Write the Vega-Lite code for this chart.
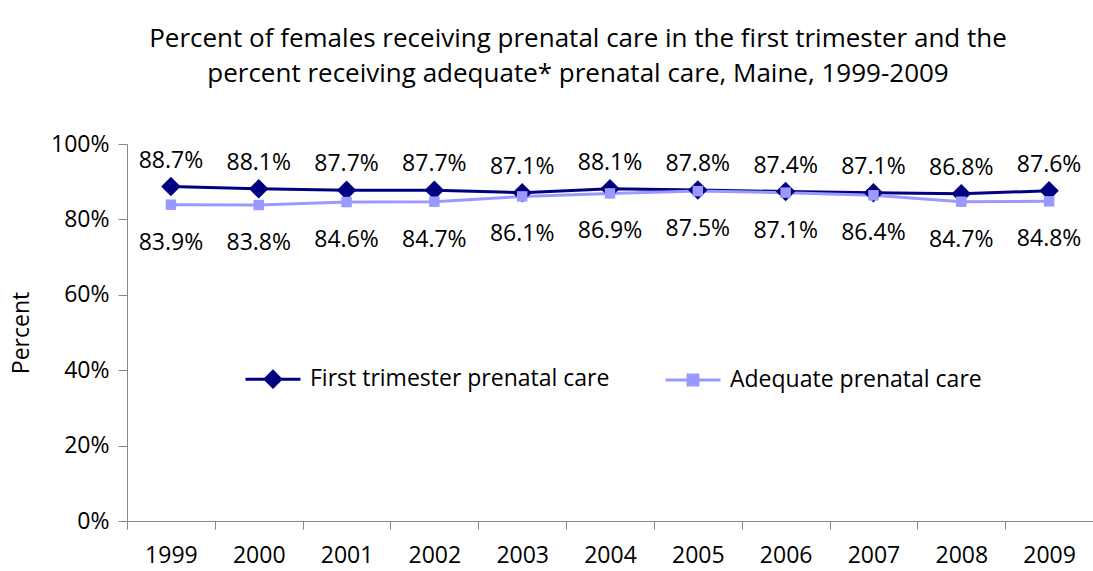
{
  "$schema": "https://vega.github.io/schema/vega-lite/v6.json",
  "width": 966,
  "height": 377,
  "autosize": {"type": "none"},
  "padding": {"left": 127, "top": 144, "right": 0, "bottom": 50},
  "background": "white",
  "config": {"view": {"stroke": null}, "font": "Open Sans"},
  "title": {
    "text": ["Percent of females receiving prenatal care in the first trimester and the", "percent receiving adequate* prenatal care, Maine, 1999-2009"],
    "fontSize": 26,
    "fontWeight": "normal",
    "font": "Open Sans",
    "lineHeight": 35,
    "anchor": "middle",
    "dx": -32,
    "offset": 46,
    "color": "black"
  },
  "data": {
    "values": [
      {"year": "1999", "series": "First trimester prenatal care", "pct": 0.887},
      {"year": "2000", "series": "First trimester prenatal care", "pct": 0.881},
      {"year": "2001", "series": "First trimester prenatal care", "pct": 0.877},
      {"year": "2002", "series": "First trimester prenatal care", "pct": 0.877},
      {"year": "2003", "series": "First trimester prenatal care", "pct": 0.871},
      {"year": "2004", "series": "First trimester prenatal care", "pct": 0.881},
      {"year": "2005", "series": "First trimester prenatal care", "pct": 0.878},
      {"year": "2006", "series": "First trimester prenatal care", "pct": 0.874},
      {"year": "2007", "series": "First trimester prenatal care", "pct": 0.871},
      {"year": "2008", "series": "First trimester prenatal care", "pct": 0.868},
      {"year": "2009", "series": "First trimester prenatal care", "pct": 0.876},
      {"year": "1999", "series": "Adequate prenatal care", "pct": 0.839},
      {"year": "2000", "series": "Adequate prenatal care", "pct": 0.838},
      {"year": "2001", "series": "Adequate prenatal care", "pct": 0.846},
      {"year": "2002", "series": "Adequate prenatal care", "pct": 0.847},
      {"year": "2003", "series": "Adequate prenatal care", "pct": 0.861},
      {"year": "2004", "series": "Adequate prenatal care", "pct": 0.869},
      {"year": "2005", "series": "Adequate prenatal care", "pct": 0.875},
      {"year": "2006", "series": "Adequate prenatal care", "pct": 0.871},
      {"year": "2007", "series": "Adequate prenatal care", "pct": 0.864},
      {"year": "2008", "series": "Adequate prenatal care", "pct": 0.847},
      {"year": "2009", "series": "Adequate prenatal care", "pct": 0.848}
    ]
  },
  "encoding": {
    "x": {
      "field": "year",
      "type": "ordinal",
      "scale": {"type": "band", "paddingInner": 0, "paddingOuter": 0},
      "axis": {
        "title": null,
        "labelAngle": 0,
        "tickBand": "extent",
        "tickSize": 8,
        "domainColor": "#868686",
        "tickColor": "#868686",
        "labelFontSize": 23,
        "labelColor": "black",
        "labelPadding": 15,
        "labelFont": "Open Sans",
        "grid": false
      }
    },
    "y": {
      "field": "pct",
      "type": "quantitative",
      "scale": {"domain": [0, 1], "nice": false},
      "axis": {
        "title": "Percent",
        "format": ".0%",
        "values": [0, 0.2, 0.4, 0.6, 0.8, 1],
        "tickSize": 9,
        "labelPadding": 9,
        "titlePadding": 17,
        "grid": false,
        "domainColor": "#868686",
        "tickColor": "#868686",
        "labelFontSize": 23,
        "labelColor": "black",
        "labelFont": "Open Sans",
        "titleFont": "Open Sans",
        "titleFontSize": 23,
        "titleFontWeight": "normal",
        "titleColor": "black"
      }
    }
  },
  "layer": [
    {
      "mark": {"type": "line", "strokeWidth": 3},
      "encoding": {
        "color": {
          "field": "series",
          "type": "nominal",
          "sort": ["First trimester prenatal care", "Adequate prenatal care"],
          "scale": {"domain": ["First trimester prenatal care", "Adequate prenatal care"], "range": ["#000080", "#9999FF"]},
          "legend": {
            "orient": "none",
            "legendX": 117,
            "legendY": 206,
            "direction": "horizontal",
            "title": null,
            "labelFont": "Open Sans",
            "labelFontSize": 23,
            "labelColor": "black",
            "labelLimit": 0,
            "symbolSize": 3025,
            "symbolStrokeWidth": 3,
            "labelOffset": 8,
            "columnPadding": 49,
            "padding": 0,
            "encode": {
              "symbols": {
                "update": {
                  "shape": {"signal": "datum.value == 'First trimester prenatal care' ? 'M-1,0L1,0M-0.28,0L0,-0.28L0.28,0L0,0.28Z' : 'M-1,0L1,0M-0.18,-0.18L0.18,-0.18L0.18,0.18L-0.18,0.18Z'"},
                  "fill": {"signal": "datum.value == 'First trimester prenatal care' ? '#000080' : '#9999FF'"},
                  "stroke": {"signal": "datum.value == 'First trimester prenatal care' ? '#000080' : '#9999FF'"},
                  "strokeWidth": {"value": 3},
                  "opacity": {"value": 1}
                }
              }
            }
          }
        },
        "order": {"field": "year"}
      }
    },
    {
      "transform": [{"filter": "datum.series == 'First trimester prenatal care'"}],
      "mark": {"type": "point", "shape": "diamond", "size": 380, "filled": true, "opacity": 1, "color": "#000080", "strokeWidth": 1}
    },
    {
      "transform": [{"filter": "datum.series == 'Adequate prenatal care'"}],
      "mark": {"type": "point", "shape": "square", "size": 110, "filled": true, "opacity": 1, "color": "#9999FF", "strokeWidth": 1}
    },
    {
      "transform": [{"filter": "datum.series == 'First trimester prenatal care'"}],
      "mark": {"type": "text", "dy": -19, "baseline": "alphabetic", "fontSize": 23, "font": "Open Sans", "color": "black"},
      "encoding": {"text": {"field": "pct", "type": "quantitative", "format": ".1%"}}
    },
    {
      "transform": [{"filter": "datum.series == 'Adequate prenatal care'"}],
      "mark": {"type": "text", "dy": 45, "baseline": "alphabetic", "fontSize": 23, "font": "Open Sans", "color": "black"},
      "encoding": {"text": {"field": "pct", "type": "quantitative", "format": ".1%"}}
    }
  ]
}
